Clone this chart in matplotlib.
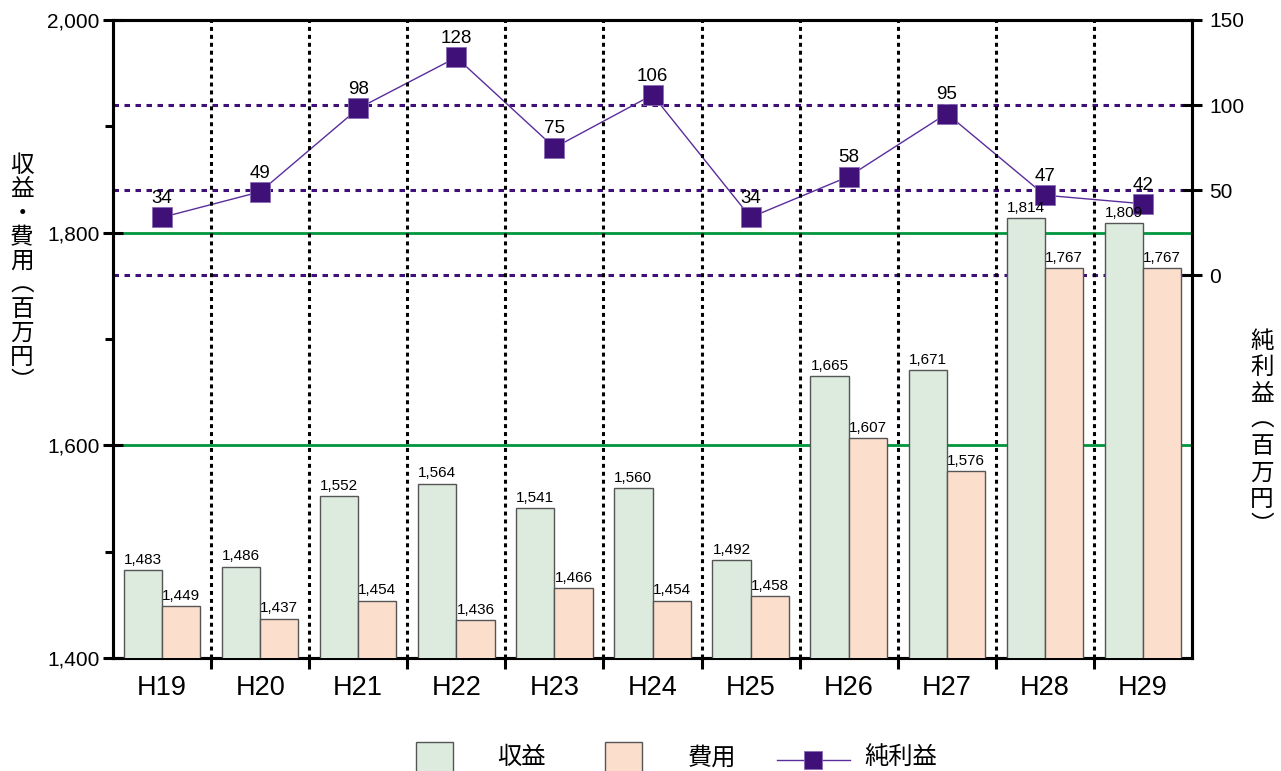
import matplotlib

matplotlib.use("Agg")

import matplotlib.pyplot as plt
import numpy as np
from matplotlib.lines import Line2D
from matplotlib.patches import Rectangle
from matplotlib.ticker import FuncFormatter, MultipleLocator

plt.rcParams["font.family"] = ["Liberation Sans", "Noto Sans CJK JP", "DejaVu Sans"]

years = ["H19", "H20", "H21", "H22", "H23", "H24", "H25", "H26", "H27", "H28", "H29"]
revenue = [1483, 1486, 1552, 1564, 1541, 1560, 1492, 1665, 1671, 1814, 1809]
expense = [1449, 1437, 1454, 1436, 1466, 1454, 1458, 1607, 1576, 1767, 1767]
net_income = [34, 49, 98, 128, 75, 106, 34, 58, 95, 47, 42]

GREEN = "#DCEBDD"
PINK = "#FCDECD"
PURPLE = "#3E1078"
LINE_PURPLE = "#5A2D9C"
EDGE = "#555555"

W, H = 1281, 771
fig = plt.figure(figsize=(W / 100, H / 100), dpi=100)
ax = fig.add_axes([113 / W, 1 - 658 / H, (1192 - 113) / W, (658 - 20) / H])

x = np.arange(len(years))
bw = 0.39
ax.bar(x - bw / 2, revenue, bw, color=GREEN, edgecolor=EDGE, linewidth=1, zorder=3)
ax.bar(x + bw / 2, expense, bw, color=PINK, edgecolor=EDGE, linewidth=1, zorder=3)

for xi, v in zip(x, revenue):
    ax.text(xi - bw / 2, v + 3, f"{v:,}", ha="center", va="bottom", fontsize=11, zorder=5)
for xi, v in zip(x, expense):
    ax.text(xi + bw / 2, v + 3, f"{v:,}", ha="center", va="bottom", fontsize=11, zorder=5)

ax.set_xlim(-0.5, len(years) - 0.5)
ax.set_ylim(1400, 2000)
ax.yaxis.set_major_locator(MultipleLocator(200))
ax.yaxis.set_minor_locator(MultipleLocator(100))
ax.yaxis.set_major_formatter(FuncFormatter(lambda v, p: f"{int(v):,}"))
ax.tick_params(axis="y", which="major", direction="inout", length=15, width=2.2, labelsize=15, pad=2)
ax.tick_params(axis="y", which="minor", direction="out", length=6, width=2.2)

# green reference lines
for yv in (1600, 1800):
    ax.axhline(yv, color="#00963C", lw=2, zorder=1)

# category separators
bounds = np.arange(0.5, len(years) - 0.5, 1.0)
ax.set_xticks(x)
ax.set_xticklabels(years)
ax.set_xticks(bounds, minor=True)
ax.tick_params(axis="x", which="major", length=0, labelsize=19.5, pad=12)
ax.tick_params(axis="x", which="minor", direction="out", length=8, width=2.2)
for b in bounds:
    ax.axvline(b, color="black", lw=2.2, linestyle=(0, (1.3, 1.3)), zorder=2)

for s in ax.spines.values():
    s.set_linewidth(2.2)

# net income on right axis
ax2 = ax.twinx()
ax2.set_ylim(-225, 150)
ax2.set_yticks([0, 50, 100, 150])
ax2.tick_params(axis="y", direction="inout", length=15, width=2.2, labelsize=15, pad=5)
for s in ax2.spines.values():
    s.set_linewidth(2.2)
for yv in (0, 50, 100):
    ax2.axhline(yv, color=PURPLE, lw=2.2, linestyle=(0, (1.8, 1.8)), zorder=1)
ax2.plot(x, net_income, color=LINE_PURPLE, lw=1, marker="s", markersize=14,
         markerfacecolor=PURPLE, markeredgecolor="#8A6BB5", markeredgewidth=0.6, zorder=4)
for xi, v in zip(x, net_income):
    ax2.text(xi, v + 6, str(v), ha="center", va="bottom", fontsize=13.5)

ax.set_zorder(ax2.get_zorder() + 1)
ax.patch.set_visible(False)
ax2.patch.set_visible(True)

fig.text(22 / W, 1 - 274 / H, "\n".join("収益・費用︵百万円︶"), ha="center", va="center",
         fontsize=17, linespacing=1.12)
fig.text(1262 / W, 1 - 434 / H, "\n".join("純利益︵百万円︶"), ha="center", va="center",
         fontsize=17, linespacing=1.25)


# legend, drawn in figure pixels
def fx(px):
    return px / W


def fy(py):
    return 1 - py / H


for x0, col in ((416, GREEN), (605, PINK)):
    fig.add_artist(Rectangle((fx(x0), fy(785)), 37 / W, 43 / H, transform=fig.transFigure,
                             facecolor=col, edgecolor=EDGE, linewidth=1))
fig.add_artist(Line2D([fx(777), fx(850)], [fy(760), fy(760)], transform=fig.transFigure,
                      color=LINE_PURPLE, lw=1))
fig.add_artist(Line2D([fx(813)], [fy(760)], transform=fig.transFigure, marker="s",
                      markersize=13.5, markerfacecolor=PURPLE, markeredgecolor="#8A6BB5",
                      markeredgewidth=0.6, linestyle="none"))
for xt, label in ((497, "収益"), (688, "費用"), (864, "純利益")):
    fig.text(fx(xt), fy(758), label, ha="left", va="center", fontsize=17.5)

fig.savefig("out.png", dpi=100)
